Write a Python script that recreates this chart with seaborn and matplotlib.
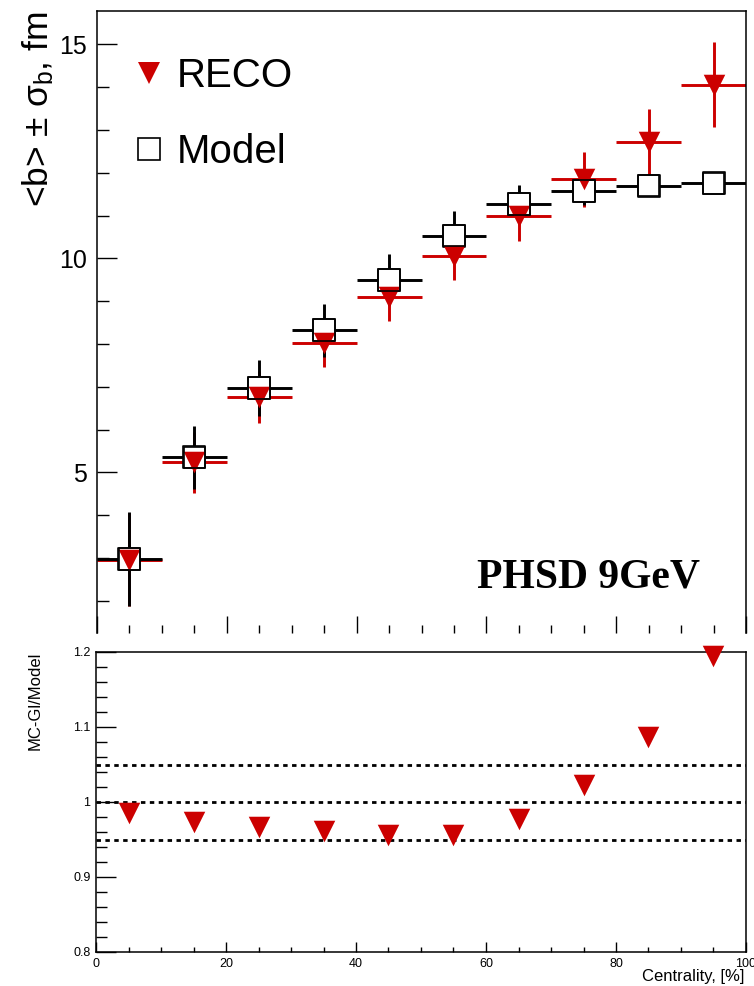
import numpy as np
import pandas as pd
import matplotlib
matplotlib.use('Agg')
import matplotlib.pyplot as plt
import seaborn as sns
from matplotlib.lines import Line2D
from matplotlib.ticker import MultipleLocator, FormatStrFormatter

# ---------------- data ----------------
centrality = [5, 15, 25, 35, 45, 55, 65, 75, 85, 95]
bin_half_width = [5, 5, 5, 5, 5, 5, 5, 5, 5, 5]
model_b = [2.98, 5.35, 6.97, 8.32, 9.50, 10.53, 11.27, 11.57, 11.70, 11.75]
model_sigma = [1.10, 0.74, 0.65, 0.62, 0.59, 0.57, 0.44, 0.33, 0.22, 0.20]
reco_b = [2.96, 5.23, 6.76, 8.03, 9.09, 10.06, 10.98, 11.85, 12.71, 14.06]
reco_sigma = [1.08, 0.71, 0.60, 0.57, 0.55, 0.57, 0.58, 0.64, 0.78, 1.00]
ratio = [0.986, 0.974, 0.967, 0.961, 0.956, 0.956, 0.977, 1.023, 1.086, 1.195]
band_levels = [0.95, 1.0, 1.05]

df = pd.DataFrame({
    'centrality': centrality,
    'model_b': model_b,
    'reco_b': reco_b,
    'ratio': ratio,
})

# ---------------- style ----------------
sns.set_theme(style='white')
plt.rcParams['font.family'] = ['Liberation Sans', 'DejaVu Sans']
plt.rcParams['mathtext.fontset'] = 'custom'
plt.rcParams['mathtext.rm'] = 'Liberation Sans'
plt.rcParams['mathtext.it'] = 'Liberation Sans:italic'
plt.rcParams['axes.edgecolor'] = 'black'
plt.rcParams['axes.linewidth'] = 1.1
plt.rcParams['text.color'] = 'black'
plt.rcParams['axes.labelcolor'] = 'black'
plt.rcParams['xtick.color'] = 'black'
plt.rcParams['ytick.color'] = 'black'

RED = '#cc0000'
W, H = 754, 986
fig = plt.figure(figsize=(W / 100, H / 100), dpi=100)


def frac(x0, y0, x1, y1):
    return [x0 / W, 1 - y1 / H, (x1 - x0) / W, (y1 - y0) / H]


ax1 = fig.add_axes(frac(97, 11, 746, 633))
ax2 = fig.add_axes(frac(96, 652, 746, 952))

MS = 15.5

# ---------------- top panel ----------------
ax1.errorbar(centrality, reco_b, xerr=bin_half_width, yerr=reco_sigma,
             fmt='none', ecolor=RED, elinewidth=2.1, capsize=0, zorder=2)
ax1.errorbar(centrality, model_b, xerr=bin_half_width, yerr=model_sigma,
             fmt='none', ecolor='black', elinewidth=2.1, capsize=0, zorder=3)
sns.scatterplot(data=df, x='centrality', y='model_b', marker='s', s=MS ** 2,
                color='white', edgecolor='black', linewidth=1.2, ax=ax1,
                zorder=4, legend=False)
sns.scatterplot(data=df, x='centrality', y='reco_b', marker='v', s=MS ** 2,
                color=RED, edgecolor=RED, linewidth=0, ax=ax1, zorder=5,
                legend=False)
sns.scatterplot(data=df, x='centrality', y='model_b', marker='s', s=MS ** 2,
                facecolor='none', edgecolor='black', linewidth=1.2, ax=ax1,
                zorder=6, legend=False)

ax1.set_xlim(0, 100)
ax1.set_ylim(1.245, 15.78)
ax1.spines['bottom'].set_visible(False)
ax1.xaxis.set_major_locator(MultipleLocator(20))
ax1.xaxis.set_minor_locator(MultipleLocator(5))
ax1.yaxis.set_major_locator(MultipleLocator(5))
ax1.yaxis.set_minor_locator(MultipleLocator(1))
ax1.tick_params(axis='x', which='major', direction='in', length=12.5,
                width=1.0, bottom=True, top=False, labelbottom=False)
ax1.tick_params(axis='x', which='minor', direction='in', length=6,
                width=1.0, bottom=True, top=False)
ax1.tick_params(axis='y', which='major', direction='in', length=14.5,
                width=1.0, left=True, right=False, labelsize=18, pad=7)
ax1.tick_params(axis='y', which='minor', direction='in', length=8.5,
                width=1.0, left=True, right=False)
ax1.set_xlabel('')
ax1.set_ylabel(r'<b> ± σ$_{\mathrm{b}}$, fm', fontsize=25.5, loc='top')
ax1.yaxis.set_label_coords(-0.063, 1.0)

handles = [
    Line2D([], [], linestyle='none', marker='v', markersize=MS,
           markerfacecolor=RED, markeredgecolor=RED, markeredgewidth=0),
    Line2D([], [], linestyle='none', marker='s', markersize=MS,
           markerfacecolor='white', markeredgecolor='black',
           markeredgewidth=1.2),
]
ax1.legend(handles, ['RECO', 'Model'], loc='upper left',
           bbox_to_anchor=(0.008, 0.972), frameon=False, fontsize=29,
           handlelength=0.9, handletextpad=0.25, labelspacing=0.95,
           borderpad=0.2)

fig.text(477 / W, 1 - 587 / H, 'PHSD 9GeV', family='Liberation Serif',
         weight='bold', fontsize=30, va='baseline', ha='left')

# ---------------- ratio panel ----------------
for lvl in band_levels:
    ax2.axhline(lvl, color='black', lw=2.0, ls=(0, (1.6, 1.6)), zorder=2)
sns.scatterplot(data=df, x='centrality', y='ratio', marker='v', s=MS ** 2,
                color=RED, edgecolor=RED, linewidth=0, ax=ax2, zorder=5,
                legend=False, clip_on=False)

ax2.set_xlim(0, 100)
ax2.set_ylim(0.8, 1.2)
ax2.xaxis.set_major_locator(MultipleLocator(20))
ax2.xaxis.set_minor_locator(MultipleLocator(5))
ax2.yaxis.set_major_locator(MultipleLocator(0.1))
ax2.yaxis.set_minor_locator(MultipleLocator(0.02))
ax2.yaxis.set_major_formatter(FormatStrFormatter('%g'))
ax2.xaxis.set_major_formatter(FormatStrFormatter('%g'))
ax2.tick_params(axis='x', which='major', direction='in', length=7,
                width=1.0, bottom=True, top=False, labelsize=9, pad=4)
ax2.tick_params(axis='x', which='minor', direction='in', length=3.5,
                width=1.0, bottom=True, top=False)
ax2.tick_params(axis='y', which='major', direction='in', length=14.5,
                width=1.0, left=True, right=False, labelsize=9, pad=4)
ax2.tick_params(axis='y', which='minor', direction='in', length=8,
                width=1.0, left=True, right=False)
ax2.set_xlabel('Centrality, [%]', fontsize=12, loc='right')
ax2.xaxis.set_label_coords(0.997, -0.058)
ax2.set_ylabel('MC-Gl/Model', fontsize=12, loc='top')
ax2.yaxis.set_label_coords(-0.082, 1.0)

fig.savefig('out.png', dpi=100)
